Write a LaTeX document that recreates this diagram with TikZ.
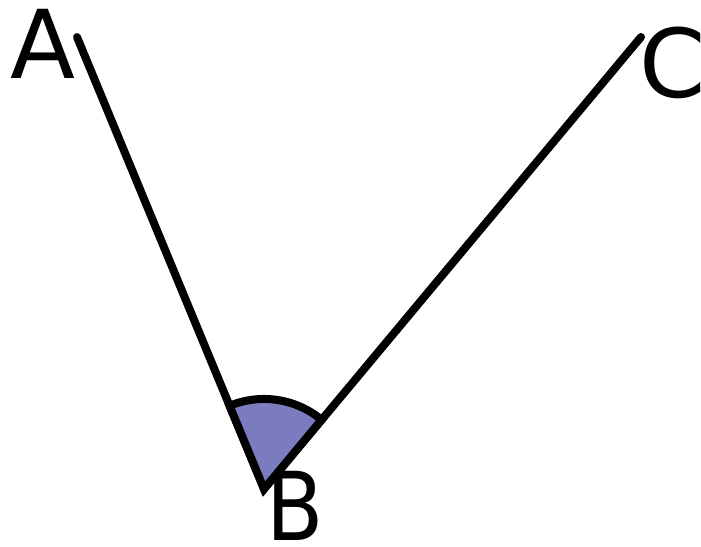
\documentclass[tikz,border=0pt]{standalone}
\usepackage{fontspec}
\setmainfont{DejaVu Sans}
\definecolor{wedgefill}{RGB}{123,123,191}
\tikzset{
  lbl/.style={font=\fontsize{95}{95}\selectfont, inner sep=0pt, anchor=base},
  armline/.style={line width=8pt, line cap=round, line join=miter},
  wedge/.style={fill=wedgefill, draw=black, line width=8pt, line join=miter}
}
\begin{document}
\begin{tikzpicture}[x=1pt,y=-1pt]
\useasboundingbox (0,0) rectangle (701,546);
\coordinate (Aend) at (77,37);
\coordinate (B) at (264,489);
\coordinate (Cend) at (641,37);
\draw[armline] (Aend) -- (B) -- (Cend);
\draw[wedge] (B) -- ++(-34.4,-83.2) arc[start angle=112.47, end angle=50.23, radius=90pt] -- cycle;
\node[lbl] (lA) at (43,78) {A};
\node[lbl] (lC) at (673,97) {C};
\node[lbl, xscale=0.88] (lB) at (295,540) {B};
\end{tikzpicture}
\end{document}
